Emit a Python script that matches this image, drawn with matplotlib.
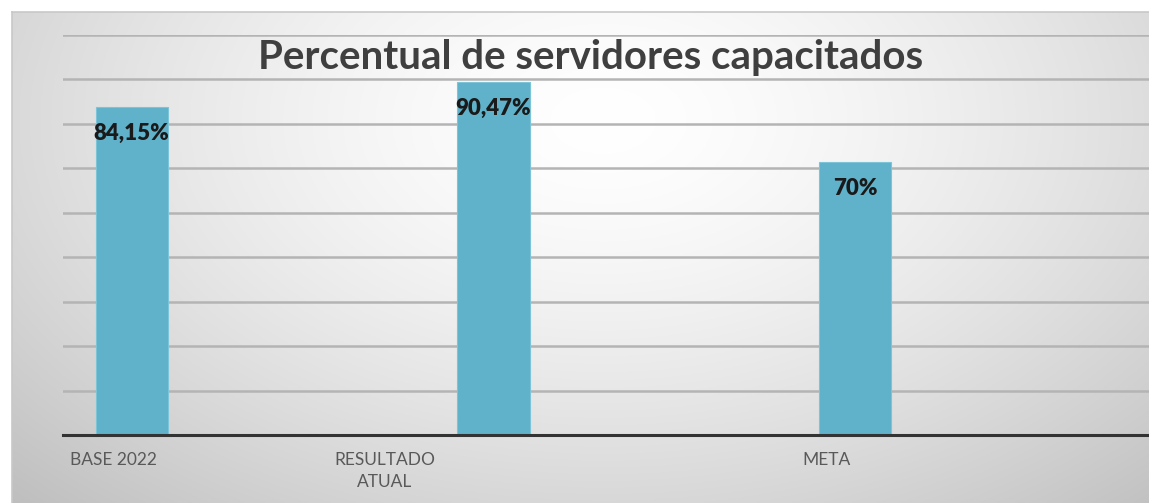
import numpy as np
import matplotlib
matplotlib.use('Agg')
from matplotlib import pyplot as plt

# data
categories = ['BASE 2022', 'RESULTADO\nATUAL', 'META']
values = [84.15, 90.47, 70.0]
value_labels = ['84,15%', '90,47%', '70%']
title = 'Percentual de servidores capacitados'

# style
bar_color = '#5fb2ca'
label_shift = [-0.05, -0.30, -0.08]   # tick labels sit a bit left of the bars
ymax = 102.6
n_grid = 9

plt.rcParams['font.family'] = ['Lato', 'DejaVu Sans']

W, H = 1149, 503
fig = plt.figure(figsize=(W / 100, H / 100), dpi=100)
fig.patch.set_facecolor('white')

# radial gradient background of the chart frame
bg = fig.add_axes([12 / W, 0, 1 - 12 / W, 1 - 12 / H])
gx, gy = np.meshgrid(np.linspace(0, 1, 400), np.linspace(0, 1, 200))
r = np.sqrt(((gx - 0.52) / 0.72) ** 2 + ((gy - 0.22) / 1.05) ** 2)
shade = 1.0 - 0.24 * np.clip(r, 0, 1.2) ** 1.5
bg.imshow(np.dstack([shade] * 3), aspect='auto', extent=[0, 1, 0, 1], origin='upper')
bg.set_xticks([])
bg.set_yticks([])
for s in bg.spines.values():
	s.set_color('#c8c8c8')
	s.set_linewidth(1.2)
bg.spines['right'].set_visible(False)
bg.spines['bottom'].set_visible(False)

ax = fig.add_axes([63 / W, 1 - 435 / H, 1 - 63 / W, (435 - 35) / H])
ax.patch.set_alpha(0)
x = np.arange(len(categories))
ax.bar(x, values, width=0.2, color=bar_color, edgecolor='#7cc4d8', linewidth=0.8, zorder=3)
ax.set_xlim(-0.19, 2.813)
ax.set_ylim(0, ymax)
ax.set_yticks(np.linspace(0, ymax, n_grid + 1))
ax.yaxis.grid(True, color='#b4b4b4', linewidth=1.8, zorder=1)
ax.set_axisbelow(True)
ax.tick_params(left=False, labelleft=False, bottom=False, labelbottom=False)
for s in ['top', 'right', 'left']:
	ax.spines[s].set_visible(False)
ax.spines['bottom'].set_color('#333333')
ax.spines['bottom'].set_linewidth(2.2)
ax.spines['bottom'].set_zorder(4)

for i, v in enumerate(values):
	ax.annotate(value_labels[i], (x[i], v), xytext=(0, -19), textcoords='offset points',
		ha='center', va='center', fontsize=16, fontweight='heavy', color='#1a1a1a', zorder=5)

for i, c in enumerate(categories):
	ax.annotate(c, (x[i] + label_shift[i], 0), xytext=(0, -12), textcoords='offset points',
		ha='center', va='top', fontsize=12.5, color='#595959', linespacing=1.5)

fig.text(591 / W, 1 - 57 / H, title, ha='center', va='center',
	fontsize=29, fontweight='bold', color='#3f3f3f')

fig.savefig('out.png', dpi=100)
